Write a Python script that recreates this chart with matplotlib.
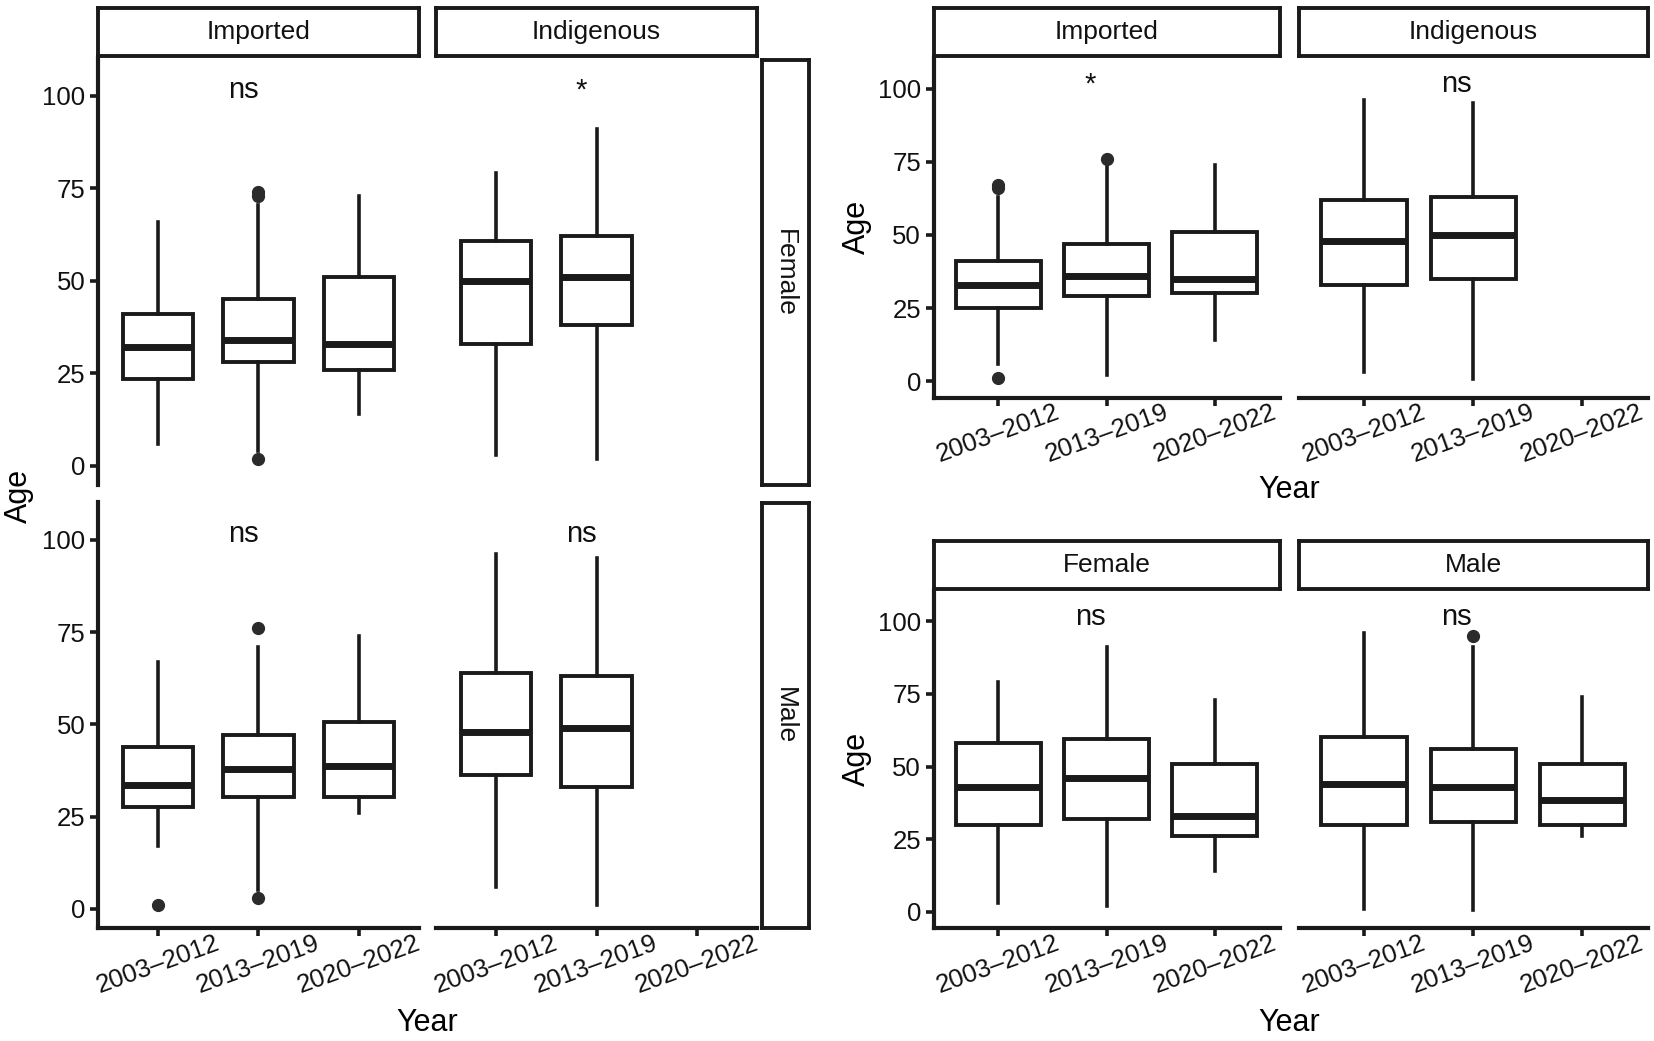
import matplotlib.pyplot as plt

plt.rcParams['font.family'] = ['Liberation Sans', 'DejaVu Sans']

periods = ['2003–2012', '2013–2019', '2020–2022']

# five numbers per period: lower whisker, Q1, median, Q3, upper whisker
left_imp_female = [[6, 23.6, 32, 41, 66], [4, 28, 34, 45, 70.5], [14, 26, 33, 51, 73]]
left_imp_female_out = [[], [73, 74, 2], []]
left_ind_female = [[3, 33, 50, 60.7, 79], [2, 38, 51, 62, 91], None]
left_imp_male = [[17, 27.5, 33.5, 43.8, 67], [5, 30.3, 38, 47, 71], [26, 30.3, 38.6, 50.7, 74]]
left_imp_male_out = [[1], [76, 3], []]
left_ind_male = [[6, 36.4, 48, 64, 96], [1, 33, 49, 63, 95], None]

right_imp = [[6, 25, 33, 41, 63], [2, 29, 36, 47, 74], [14, 30, 35, 51, 74]]
right_imp_out = [[66, 67, 1], [76], []]
right_ind = [[3, 33, 48, 62, 96], [0.7, 35, 50, 63, 95], None]
right_female = [[3, 30, 43, 58, 79], [2, 32, 46, 59.3, 91], [14, 26, 33, 51, 73]]
right_male = [[1, 30, 44, 60, 96], [0.8, 31, 43, 56, 91], [26, 30, 38.5, 51, 74]]
right_male_out = [[], [95], []]

left_labels = ['ns', '*', 'ns', 'ns']
right_labels = ['*', 'ns', 'ns', 'ns']

INK = '#1a1a1a'
W, H = 1568.0, 987.0


def box(x0, y0, x1, y1):
    # pixel box (of the reference) -> figure fraction
    return [x0 / W, 1 - y1 / H, (x1 - x0) / W, (y1 - y0) / H]


def draw_boxes(ax, fives, outs, width):
    stats, pos = [], []
    for i, f in enumerate(fives):
        if f is None:
            continue
        lo, q1, med, q3, hi = f
        stats.append(dict(whislo=lo, q1=q1, med=med, q3=q3, whishi=hi,
                          fliers=outs[i] if outs else []))
        pos.append(i + 1)
    ax.bxp(stats, positions=pos, widths=width, showcaps=False, patch_artist=True,
           boxprops=dict(facecolor='white', edgecolor=INK, linewidth=2.8),
           medianprops=dict(color=INK, linewidth=5),
           whiskerprops=dict(color=INK, linewidth=2.6),
           flierprops=dict(marker='o', markerfacecolor='#2b2b2b',
                           markeredgecolor='#2b2b2b', markersize=8.5))


def setup(ax, ylim, show_y, show_x):
    ax.set_xlim(0.4, 3.6)
    ax.set_ylim(*ylim)
    for s in ['top', 'right']:
        ax.spines[s].set_visible(False)
    ax.spines['left'].set_visible(show_y)
    ax.spines['bottom'].set_visible(show_x)
    for s in ['left', 'bottom']:
        ax.spines[s].set_linewidth(3)
        ax.spines[s].set_color(INK)
    ax.set_yticks([0, 25, 50, 75, 100])
    ax.set_xticks([1, 2, 3])
    ax.tick_params(axis='both', length=6, width=2.6, color=INK,
                   labelsize=18.5, labelcolor='#111111')
    if show_y:
        ax.tick_params(axis='y', pad=3)
    else:
        ax.tick_params(axis='y', left=False, labelleft=False)
    if show_x:
        ax.set_xticklabels(periods, rotation=20, ha='center')
        ax.tick_params(axis='x', pad=-4)
    else:
        ax.tick_params(axis='x', bottom=False, labelbottom=False)


def strip(fig, rect, label, vertical=False):
    s = fig.add_axes(rect)
    s.set_xticks([])
    s.set_yticks([])
    for sp in s.spines.values():
        sp.set_linewidth(2.8)
        sp.set_color(INK)
    s.text(0.5, 0.5, label, ha='center', va='center', fontsize=19,
           color='#111111', rotation=-90 if vertical else 0, transform=s.transAxes)


fig = plt.figure(figsize=(16.54, 10.41), dpi=100)

# ---- left figure: facet_grid sex x origin
ylim_l = (-5.2, 110.2)
panels_l = [
    (box(93, 55, 397, 460), left_imp_female, left_imp_female_out, True, False),
    (box(413, 55, 718, 460), left_ind_female, None, False, False),
    (box(93, 476, 397, 880), left_imp_male, left_imp_male_out, True, True),
    (box(413, 476, 718, 880), left_ind_male, None, False, True),
]
for (rect, fives, outs, sy, sx), lab in zip(panels_l, left_labels):
    ax = fig.add_axes(rect)
    draw_boxes(ax, fives, outs, 0.7)
    setup(ax, ylim_l, sy, sx)
    ax.text(1.85, 101.5, lab, ha='center', va='center', fontsize=21, color='#111111')

strip(fig, box(93, 8, 397, 53), 'Imported')
strip(fig, box(413, 8, 718, 53), 'Indigenous')
strip(fig, box(722, 57, 767, 460), 'Female', vertical=True)
strip(fig, box(722, 477, 767, 880), 'Male', vertical=True)
fig.text(18 / W, 1 - 470 / H, 'Age', rotation=90, ha='center', va='center', fontsize=22)
fig.text(405 / W, 1 - 970 / H, 'Year', ha='center', va='center', fontsize=22)

# ---- right figures: facet_wrap by origin, then by sex
ylim_r = (-5.6, 110.5)
panels_r = [
    (box(885, 55, 1213, 377), right_imp, right_imp_out, True),
    (box(1231, 55, 1562, 377), right_ind, None, False),
    (box(885, 560, 1213, 880), right_female, None, True),
    (box(1231, 560, 1562, 880), right_male, right_male_out, False),
]
for (rect, fives, outs, sy), lab in zip(panels_r, right_labels):
    ax = fig.add_axes(rect)
    draw_boxes(ax, fives, outs, 0.78)
    setup(ax, ylim_r, sy, True)
    ax.text(1.85, 101.5, lab, ha='center', va='center', fontsize=21, color='#111111')

strip(fig, box(885, 8, 1213, 53), 'Imported')
strip(fig, box(1231, 8, 1562, 53), 'Indigenous')
strip(fig, box(885, 513, 1213, 558), 'Female')
strip(fig, box(1231, 513, 1562, 558), 'Male')
fig.text(812 / W, 1 - 215 / H, 'Age', rotation=90, ha='center', va='center', fontsize=22)
fig.text(812 / W, 1 - 720 / H, 'Age', rotation=90, ha='center', va='center', fontsize=22)
fig.text(1222 / W, 1 - 465 / H, 'Year', ha='center', va='center', fontsize=22)
fig.text(1222 / W, 1 - 970 / H, 'Year', ha='center', va='center', fontsize=22)

fig.savefig('out.png', dpi=100, facecolor='white')
